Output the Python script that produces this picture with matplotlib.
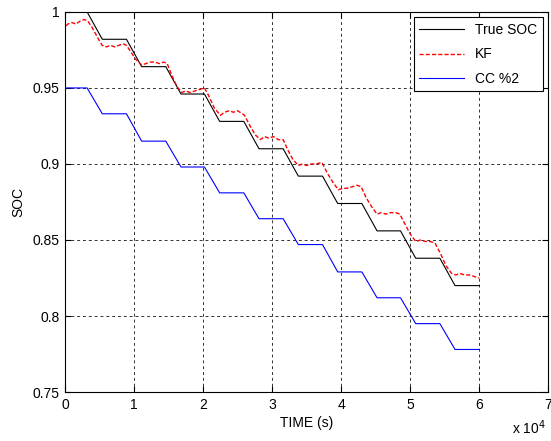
import numpy as np
import matplotlib
matplotlib.use("Agg")
import matplotlib.pyplot as plt
from matplotlib.ticker import FuncFormatter, MultipleLocator

plt.rcParams["font.family"] = ["Liberation Sans", "DejaVu Sans"]
plt.rcParams["font.size"] = 10

# staircase breakpoints (s) shared by true SOC and coulomb counting
step_t = [0, 3200, 5400, 8900, 11100, 14600, 16800, 20200, 22400, 25900, 28100,
          31600, 33800, 37300, 39500, 43000, 45200, 48600, 50800, 54300, 56500, 60000]
true_soc = [1.0, 1.0, 0.982, 0.982, 0.964, 0.964, 0.946, 0.946, 0.928, 0.928, 0.910,
            0.910, 0.892, 0.892, 0.874, 0.874, 0.856, 0.856, 0.838, 0.838, 0.820, 0.820]
cc_soc = [0.95, 0.95, 0.933, 0.933, 0.915, 0.915, 0.898, 0.898, 0.881, 0.881, 0.864,
          0.864, 0.847, 0.847, 0.829, 0.829, 0.812, 0.812, 0.795, 0.795, 0.778, 0.778]

# Kalman filter estimate, read off point by point
kf_t = [0, 0, 400, 1000, 1600, 2200, 2800, 3300, 3900, 4500, 5100,
        5400, 6000, 6600, 7200, 7800, 8400, 8900, 9500, 10200,
        11100, 11700, 12300, 13000, 13700, 14300, 14800, 15500, 16200,
        16900, 17500, 18100, 18800, 19500, 20200, 20800, 21600,
        22500, 23100, 23800, 24400, 25000, 25700, 26000, 26800, 27600,
        28300, 28900, 29500, 30200, 30900, 31600, 32300, 33000,
        33800, 34400, 35000, 35700, 36400, 37200, 38000, 38800,
        39600, 40200, 40900, 41600, 42300, 42900, 43600, 44400,
        45200, 45800, 46500, 47200, 47900, 48500, 49300, 50000,
        50800, 51500, 52200, 52900, 53600, 54400, 55200,
        56000, 56600, 57200, 57900, 58600, 59300, 60000]
kf_soc = [0.950, 0.990, 0.992, 0.993, 0.992, 0.994, 0.995, 0.994, 0.990, 0.985, 0.980,
          0.978, 0.977, 0.978, 0.977, 0.978, 0.979, 0.978, 0.974, 0.969,
          0.965, 0.966, 0.967, 0.967, 0.966, 0.967, 0.966, 0.958, 0.951,
          0.947, 0.948, 0.947, 0.948, 0.949, 0.950, 0.945, 0.937,
          0.932, 0.934, 0.935, 0.934, 0.935, 0.933, 0.932, 0.925, 0.919,
          0.916, 0.918, 0.917, 0.918, 0.916, 0.916, 0.909, 0.903,
          0.899, 0.900, 0.899, 0.900, 0.900, 0.901, 0.894, 0.888,
          0.883, 0.884, 0.884, 0.885, 0.886, 0.885, 0.878, 0.872,
          0.867, 0.868, 0.867, 0.868, 0.868, 0.867, 0.860, 0.854,
          0.849, 0.850, 0.849, 0.849, 0.848, 0.841, 0.833,
          0.828, 0.827, 0.828, 0.827, 0.827, 0.826, 0.825]

fig = plt.figure(figsize=(5.51, 4.41), dpi=100)
ax = fig.add_axes([0.118, 0.111, 0.877, 0.862])

ax.plot(step_t, true_soc, color="k", lw=0.8, label="True SOC")
ax.plot(kf_t, kf_soc, color="red", lw=1.0, ls=(0, (3, 1.5)), label="KF")
ax.plot(step_t, cc_soc, color="blue", lw=0.8, label="CC %2")

ax.set_xlim(0, 70000)
ax.set_ylim(0.75, 1.0)
ax.xaxis.set_major_locator(MultipleLocator(10000))
ax.yaxis.set_major_locator(MultipleLocator(0.05))
ax.xaxis.set_major_formatter(FuncFormatter(lambda v, p: "%g" % (v / 1e4)))
ax.yaxis.set_major_formatter(FuncFormatter(lambda v, p: "%g" % round(v, 2)))
ax.tick_params(direction="in", top=True, right=True, length=4, width=0.8, pad=4)
ax.grid(True, color="#333333", ls=(0, (3, 3)), lw=0.7)
for s in ax.spines.values():
    s.set_linewidth(0.8)

ax.set_xlabel("TIME (s)", labelpad=3)
ax.set_ylabel("SOC", labelpad=5)
fig.text(0.99, 0.01, r"x 10$^4$", ha="right", va="bottom")

leg = ax.legend(loc="upper right", fancybox=False, edgecolor="k", framealpha=1,
                handlelength=3.2, borderaxespad=0.4, labelspacing=0.75)
leg.get_frame().set_linewidth(0.8)

fig.savefig("out.png", dpi=100)
